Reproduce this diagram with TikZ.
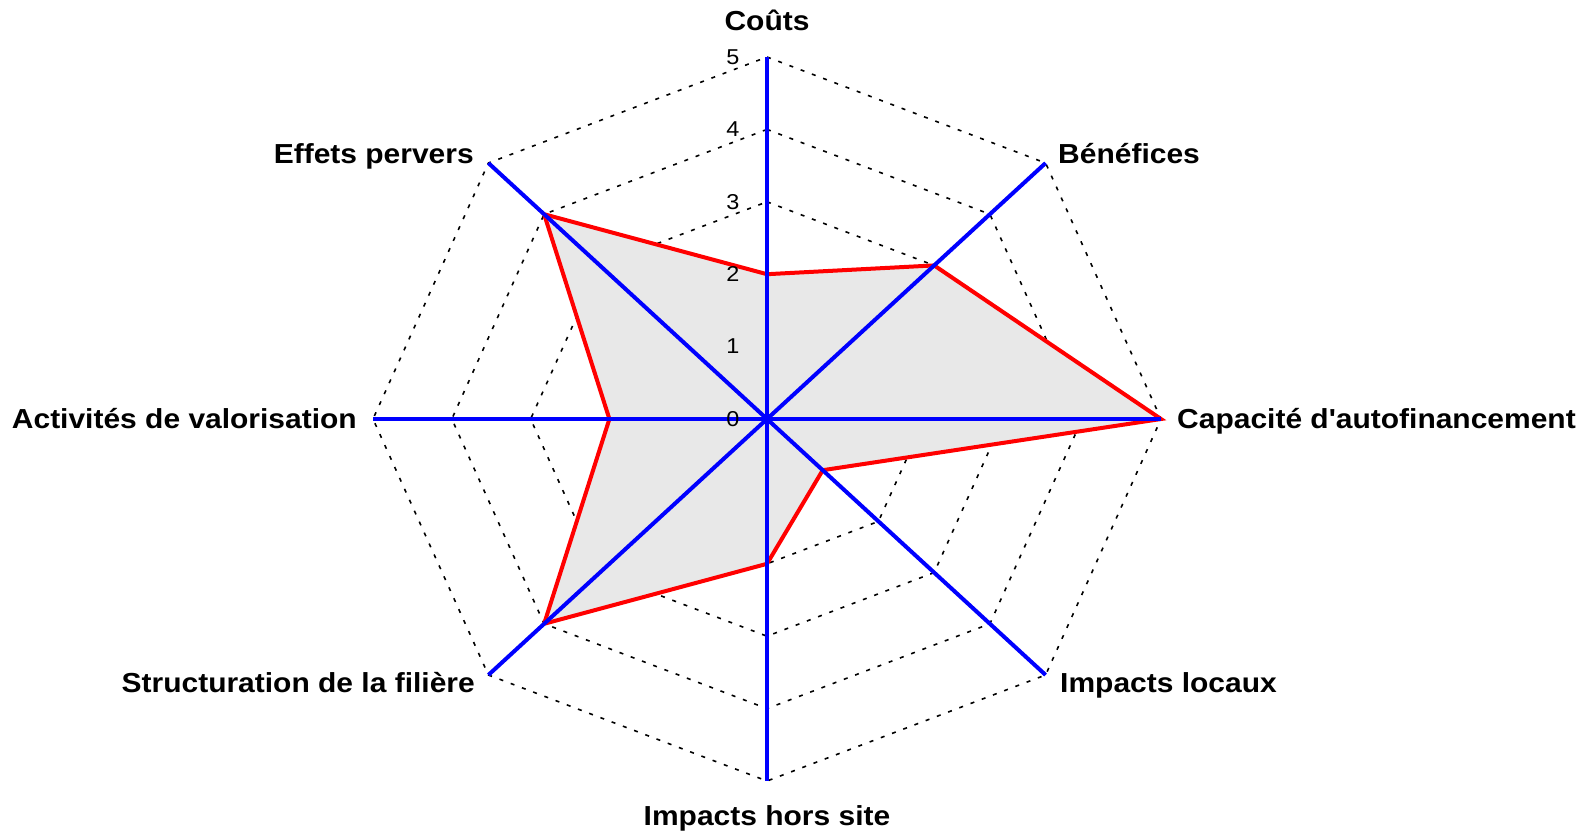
\documentclass[tikz,border=0pt]{standalone}
\usepackage{fontspec}
\setmainfont{Liberation Sans}[Ligatures=TeXOff]
\begin{document}
\begin{tikzpicture}[x=1pt,y=-1pt,
  lbl/.style={font=\fontsize{27.5}{33}\selectfont\bfseries, inner sep=0pt, xscale=1.09},
  tick/.style={font=\fontsize{21.5}{26}\selectfont, inner sep=0pt, xscale=1.09},
  gridline/.style={draw=black, line width=1.6pt, dash pattern=on 4pt off 8pt},
  axisline/.style={draw=blue, line width=4pt},
  valline/.style={draw=red, line width=4pt, fill=black!9, line join=miter},
]
\useasboundingbox (0,0) rectangle (1594,832);
\begin{scope}[shift={(767,419)}, x=78.8pt, y=72.4pt]
  \coordinate (O) at (0,0);
  % grid octagons
  \foreach \k in {1,...,5}{
    \foreach \i in {0,...,7}{
      \coordinate (g\k-\i) at ({90-45*\i}:\k);
    }
    \draw[gridline] (g\k-0) -- (g\k-1) -- (g\k-2) -- (g\k-3) -- (g\k-4) -- (g\k-5) -- (g\k-6) -- (g\k-7) -- cycle;
  }
  % data values
  \coordinate (v0) at (90:2);
  \coordinate (v1) at (45:3);
  \coordinate (v2) at (0:5);
  \coordinate (v3) at (-45:1);
  \coordinate (v4) at (-90:2);
  \coordinate (v5) at (-135:4);
  \coordinate (v6) at (180:2);
  \coordinate (v7) at (135:4);
  \draw[valline] (v0) -- (v1) -- (v2) -- (v3) -- (v4) -- (v5) -- (v6) -- (v7) -- cycle;
  % axes
  \foreach \i in {0,...,7}{
    \draw[axisline] (O) -- (g5-\i);
  }
\end{scope}
% tick labels
\foreach \k in {0,...,5}{
  \node[tick] (t\k) at (733,{419-72.4*\k}) {\k};
}
% axis labels
\node[lbl, anchor=base] (lc) at (767,31) {Coûts};
\node[lbl, anchor=base west] (lb) at (1058,163) {Bénéfices};
\node[lbl, anchor=base west] (la) at (1177,428) {Capacité d'autofinancement};
\node[lbl, anchor=base west] (ll) at (1060,692) {Impacts locaux};
\node[lbl, anchor=base] (lh) at (767,825) {Impacts hors site};
\node[lbl, anchor=base east] (ls) at (475,692) {Structuration de la filière};
\node[lbl, anchor=base east] (lv) at (357,428) {Activités de valorisation};
\node[lbl, anchor=base east] (le) at (474,163) {Effets pervers};
\end{tikzpicture}
\end{document}
